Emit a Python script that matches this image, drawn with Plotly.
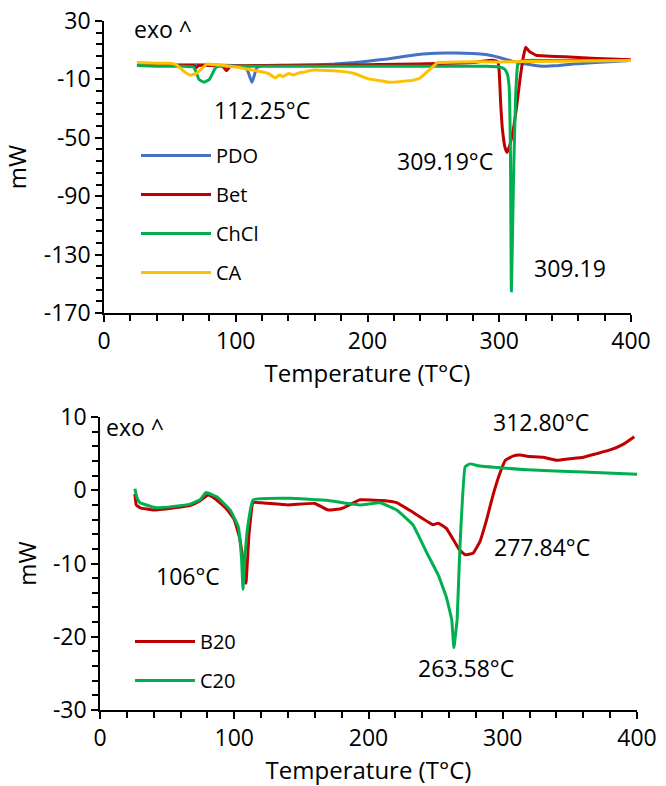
import plotly.graph_objects as go

# ---------------- Panel a) data ----------------
pdo_T = [25, 40, 60, 80, 100, 106, 109, 111, 112.25, 113.5, 116, 120, 140, 160, 175, 190, 200, 215, 230, 245, 260, 280, 290, 300, 310, 320, 333, 345, 360, 380, 400]
pdo_mW = [0.5, 0, 0, 0, -0.5, -1, -4, -9, -12, -9, -2, -0.5, -0.3, 0, 0.5, 1.5, 2.5, 4, 6, 7.5, 8, 7.8, 7, 5, 2.5, 0.5, -1, -0.5, 0.8, 2, 3]

bet_T = [25, 50, 68, 70, 72, 90, 93, 96, 120, 200, 280, 292, 296, 299, 300, 301, 302.5, 304.5, 306, 308, 310.5, 313, 316, 318, 320, 323, 328, 335, 350, 370, 400]
bet_mW = [0, -0.5, -0.5, -2, -0.5, -1, -4, -1, -0.5, 0, 1.5, 3, 3, 2, -5, -25, -45, -57, -60, -55, -45, -30, -8, 4, 12, 9, 6.5, 6, 5.5, 4.5, 3.5]

chcl_T = [25, 40, 60, 68, 70, 72, 76, 80, 84, 86, 100, 200, 290, 300, 304, 306, 307.5, 308.5, 309.19, 310, 311, 312.5, 314, 316, 320, 340, 400]
chcl_mW = [-0.5, -1, -1, -1.5, -5, -10, -12, -10, -3, -1, -1, -1, -1, -1.5, -3, -6, -15, -60, -155, -120, -70, -20, 0, 2.5, 3, 3, 3]

ca_T = [25, 40, 50, 55, 60, 65, 70, 75, 78, 85, 100, 115, 125, 130, 133, 136, 140, 144, 148, 152, 156, 160, 180, 190, 200, 210, 217, 235, 240, 245, 250, 253, 270, 300, 350, 400]
ca_mW = [1.5, 1, 1, 0, -4, -7, -6, -2, 0.5, 0, -1.5, -4, -6, -9, -7, -8, -6, -7, -5.5, -5, -4, -3.5, -4.5, -6, -9.5, -11, -12, -10.5, -9, -5, -1, 1.5, 2, 2, 2.5, 3]

a_yticks = [30, -10, -50, -90, -130, -170]
a_yticklabels = ["30", "-10", "-50", "-90", "-130", "-170"]

# ---------------- Panel b) data ----------------
b20_T = [26, 27, 30, 40, 55, 67, 74, 80.5, 86, 94, 100, 104, 106.5, 108.7, 111, 114, 120, 140, 160, 170, 180, 193.7, 210, 221, 233, 248, 252, 258, 268, 272, 277.84, 283, 288, 293, 298, 302, 308, 312.8, 320, 330, 340, 350, 360, 370, 380, 390, 398]
b20_mW = [-0.5, -2, -2.4, -2.7, -2.4, -2.1, -1.5, -0.65, -1.2, -2.5, -4, -6.5, -9.5, -12.7, -6, -1.7, -1.7, -2, -1.8, -2.7, -2.5, -1.3, -1.4, -1.7, -3, -4.7, -4.5, -5.2, -8.2, -8.8, -8.6, -7, -4, -0.5, 2.4, 4.1, 4.7, 4.8, 4.6, 4.5, 4.1, 4.3, 4.5, 5, 5.5, 6.3, 7.3]

c20_T = [26, 27.5, 29.8, 42, 55, 67, 74.5, 79, 87, 97, 103, 105.5, 106.5, 108, 110, 114, 141, 170, 193.7, 208.6, 221, 233, 243.6, 252, 258, 262, 263.58, 266, 268, 272, 275.6, 283, 318, 360, 400]
c20_mW = [0.2, -1.0, -1.7, -2.4, -2.2, -1.9, -1.3, -0.3, -0.9, -2.7, -5, -9.5, -13.5, -9, -5, -1.3, -1.1, -1.4, -2, -1.7, -2.7, -4.7, -8.6, -11.6, -14.6, -17.7, -21.5, -17.7, -8.2, 3.2, 3.6, 3.3, 2.8, 2.5, 2.2]

b_yticks = [10, 0, -10, -20, -30]
b_yticklabels = ["10", "0", "-10", "-20", "-30"]

x_ticks = [0, 100, 200, 300, 400]
x_ticklabels = ["0", "100", "200", "300", "400"]

FONT = "Open Sans"
FS = 23
BLACK = "#000000"

fig = go.Figure()

def add(x, y, name, color, xa, ya, legend, group):
    fig.add_trace(go.Scatter(x=x, y=y, mode="lines", name=name,
                             line=dict(color=color, width=3, shape="spline", smoothing=0.3),
                             xaxis=xa, yaxis=ya, legend=legend, legendgroup=group))

add(pdo_T, pdo_mW, "PDO", "#4472C4", "x", "y", "legend", "a1")
add(bet_T, bet_mW, "Bet", "#C00000", "x", "y", "legend", "a2")
add(chcl_T, chcl_mW, "ChCl", "#00B050", "x", "y", "legend", "a3")
add(ca_T, ca_mW, "CA", "#FFC000", "x", "y", "legend", "a4")
add(b20_T, b20_mW, "B20", "#C00000", "x2", "y2", "legend2", "b1")
add(c20_T, c20_mW, "C20", "#00B050", "x2", "y2", "legend2", "b2")

def xax(domain, anchor, standoff):
    return dict(domain=domain, anchor=anchor, range=[0, 400],
                tickmode="array", tickvals=x_ticks, ticktext=x_ticklabels,
                automargin=False,
                showline=True, linecolor=BLACK, linewidth=1.5, ticks="outside",
                ticklen=7, tickwidth=1.5, tickcolor=BLACK, showgrid=False, zeroline=False,
                minor=dict(tick0=0, dtick=20, ticks="outside", ticklen=6, tickwidth=1.5, tickcolor=BLACK, showgrid=False),
                tickfont=dict(family=FONT, size=FS, color=BLACK),
                title=dict(text="Temperature (T°C)", font=dict(family=FONT, size=FS + 1, color=BLACK), standoff=standoff))

def yax(domain, anchor, rng, tv, tt, mdt, mt0):
    return dict(domain=domain, anchor=anchor, range=rng,
                tickmode="array", tickvals=tv, ticktext=tt,
                automargin=False,
                showline=True, linecolor=BLACK, linewidth=1.5, ticks="outside",
                ticklen=7, tickwidth=1.5, tickcolor=BLACK, showgrid=False, zeroline=False,
                minor=dict(dtick=mdt, tick0=mt0, ticks="outside", ticklen=6, tickwidth=1.5, tickcolor=BLACK, showgrid=False),
                tickfont=dict(family=FONT, size=FS, color=BLACK),
                title=dict(text="mW", font=dict(family=FONT, size=FS + 1, color=BLACK), standoff=10))

fig.update_layout(
    width=666, height=786,
    margin=dict(l=0, r=0, t=0, b=0, autoexpand=False),
    paper_bgcolor="white", plot_bgcolor="white",
    font=dict(family=FONT, size=FS, color=BLACK),
    xaxis=xax([104/666, 631/666], "y", 10),
    yaxis=yax([1 - 313/786, 1 - 21/786], "x", [-170, 30], a_yticks, a_yticklabels, 8, -170),
    xaxis2=xax([100/666, 637/666], "y2", 8),
    yaxis2=yax([1 - 710/786, 1 - 417/786], "x2", [-30, 10], b_yticks, b_yticklabels, 2, -30),
    legend=dict(x=136/666, y=1 - 136/786, xanchor="left", yanchor="top", tracegroupgap=10,
                itemwidth=70,
                font=dict(family=FONT, size=20, color=BLACK), bgcolor="rgba(0,0,0,0)"),
    legend2=dict(x=130/666, y=1 - 622/786, xanchor="left", yanchor="top", tracegroupgap=10,
                 itemwidth=60,
                 font=dict(family=FONT, size=20, color=BLACK), bgcolor="rgba(0,0,0,0)"),
    showlegend=True,
)

def ann(x, y, text, xref, yref, xanchor="center"):
    fig.add_annotation(x=x, y=y, text=text, xref=xref, yref=yref, showarrow=False,
                       xanchor=xanchor, yanchor="middle",
                       font=dict(family=FONT, size=FS, color=BLACK))

ann(21, 24.5, "exo ^", "x", "y", "left")
ann(120, -31, "112.25°C", "x", "y")
ann(259, -66, "309.19°C", "x", "y")
ann(354, -139, "309.19", "x", "y")
ann(413, 28.5, "a)", "x", "y")

ann(3.2, 8.6, "exo ^", "x2", "y2", "left")
ann(410, 9, "b)", "x2", "y2")
ann(328.5, 9.3, "312.80°C", "x2", "y2")
ann(65.5, -11.7, "106°C", "x2", "y2")
ann(329, -7.7, "277.84°C", "x2", "y2")
ann(272.6, -24.3, "263.58°C", "x2", "y2")

fig.write_html("out.html", config={"displayModeBar": False},
               post_script="document.body.style.margin='0px';document.body.style.overflow='hidden';")
